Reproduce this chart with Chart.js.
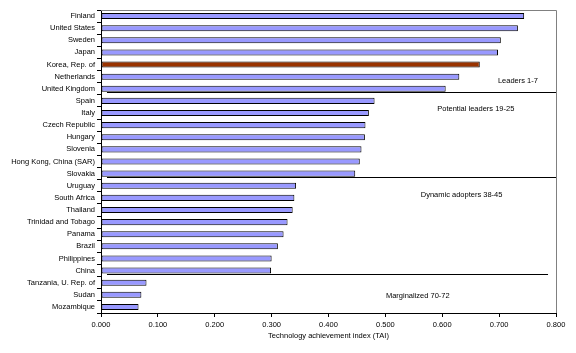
<!DOCTYPE html>
<html>
<head>
<meta charset="utf-8">
<script src="https://cdn.jsdelivr.net/npm/chart.js@4"></script>
<style>
    html, body { margin: 0; padding: 0; background: #fff; }
</style>
</head>
<body>
<canvas id="chart" width="576" height="353"></canvas>
<script>
// --- DATA ---
const countries = [
    'Finland', 'United States', 'Sweden', 'Japan', 'Korea, Rep. of', 'Netherlands', 'United Kingdom',
    'Spain', 'Italy', 'Czech Republic', 'Hungary', 'Slovenia', 'Hong Kong, China (SAR)', 'Slovakia',
    'Uruguay', 'South Africa', 'Thailand', 'Trinidad and Tobago', 'Panama', 'Brazil', 'Philippines', 'China',
    'Tanzania, U. Rep. of', 'Sudan', 'Mozambique'
];
const tai = [
    0.744, 0.733, 0.703, 0.698, 0.666, 0.630, 0.606,
    0.481, 0.471, 0.465, 0.464, 0.458, 0.455, 0.447,
    0.343, 0.340, 0.337, 0.328, 0.321, 0.311, 0.300, 0.299,
    0.080, 0.071, 0.066
];
const highlight = 'Korea, Rep. of';
const groupNames = ['Leaders 1-7', 'Potential leaders 19-25', 'Dynamic adopters 38-45', 'Marginalized 70-72'];
const groupLastIndex = [6, 13, 21];
const axisTitle = 'Technology achievement index (TAI)';

const FONT = '"Liberation Sans", Arial, sans-serif';
const SIZE = 7.5;

// --- OVERLAY: frame, group separators, group labels ---
const overlay = {
    id: 'overlay',
    afterDraw(chart) {
        const { ctx, chartArea: a, scales: { x, y } } = chart;
        ctx.save();
        // grey frame top + right
        ctx.strokeStyle = '#808080';
        ctx.lineWidth = 1;
        ctx.beginPath();
        ctx.moveTo(a.left, a.top + 0.5);
        ctx.lineTo(a.right + 0.5, a.top + 0.5);
        ctx.lineTo(a.right + 0.5, a.bottom);
        ctx.stroke();

        // separator lines just under the last bar of each group
        const lineEnds = [0.8, 0.8, 0.786];
        ctx.strokeStyle = '#000';
        groupLastIndex.forEach((idx, i) => {
            const py = Math.round(y.getPixelForValue(idx + 0.28)) + 0.5;
            ctx.beginPath();
            ctx.moveTo(x.getPixelForValue(0.0105), py);
            ctx.lineTo(x.getPixelForValue(lineEnds[i]), py);
            ctx.stroke();
        });

        // group labels
        const spots = [[0.733, 5.36], [0.659, 7.7], [0.634, 14.76], [0.557, 23.1]];
        ctx.fillStyle = '#000';
        ctx.font = SIZE + 'px ' + FONT;
        ctx.textAlign = 'center';
        ctx.textBaseline = 'middle';
        groupNames.forEach((name, i) => {
            ctx.fillText(name, x.getPixelForValue(spots[i][0]), y.getPixelForValue(spots[i][1]));
        });
        ctx.restore();
    }
};

new Chart(document.getElementById('chart'), {
    type: 'bar',
    data: {
        labels: countries,
        datasets: [{
            data: tai,
            backgroundColor: countries.map(c => c === highlight ? '#993300' : '#9999FF'),
            borderColor: '#000',
            borderWidth: 1,
            borderSkipped: false,
            categoryPercentage: 0.5,
            barPercentage: 1
        }]
    },
    options: {
        indexAxis: 'y',
        responsive: false,
        animation: false,
        layout: { padding: { top: 10, right: 20, bottom: 0, left: 0 } },
        plugins: { legend: { display: false }, tooltip: { enabled: false } },
        scales: {
            x: {
                min: 0,
                max: 0.8,
                afterFit: s => { s.height = 40; },
                ticks: {
                    stepSize: 0.1,
                    color: '#000',
                    padding: 3,
                    maxRotation: 0,
                    font: { family: FONT, size: SIZE },
                    callback: v => v.toFixed(3)
                },
                grid: { drawOnChartArea: false, tickLength: 4, tickColor: '#000' },
                border: { color: '#000' },
                title: {
                    display: true,
                    text: axisTitle,
                    color: '#000',
                    font: { family: FONT, size: SIZE },
                    padding: { top: 0, bottom: 13 }
                }
            },
            y: {
                afterFit: s => { s.width = 101; },
                ticks: {
                    color: '#000',
                    padding: 2,
                    autoSkip: false,
                    font: { family: FONT, size: SIZE }
                },
                grid: { drawOnChartArea: false, tickLength: 4, tickColor: '#000' },
                border: { color: '#000' }
            }
        }
    },
    plugins: [overlay]
});
</script>
</body>
</html>
